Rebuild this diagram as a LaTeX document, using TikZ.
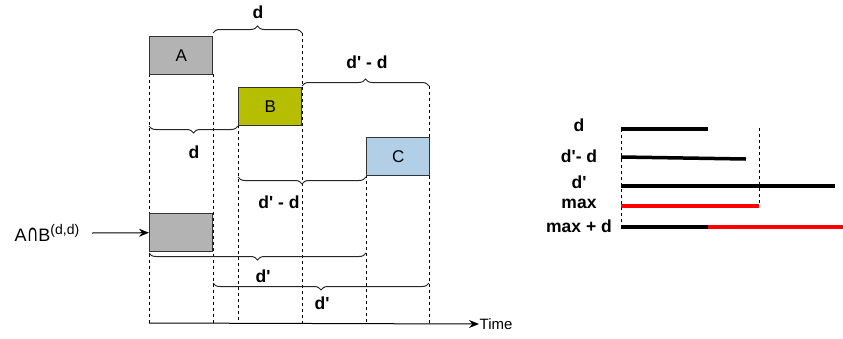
\documentclass[tikz,border=0pt]{standalone}
\usepackage{fontspec}
\setmainfont{Liberation Sans}
\newfontfamily\symfont{DejaVu Sans}
\usepackage{graphicx}
\usepackage{xcolor}
\usepackage{tikz}
\usetikzlibrary{arrows.meta, positioning, decorations.pathreplacing}

\definecolor{boxA}{RGB}{179,179,179}
\definecolor{boxB}{RGB}{181,190,0}
\definecolor{boxC}{RGB}{177,208,232}
\newcommand{\pr}{\textquotesingle}

\begin{document}
\begin{tikzpicture}[x=1pt,y=-1pt]
\tikzset{
  bx/.style={rectangle,draw=black!80,line width=1.4pt,anchor=north west,inner sep=0pt,minimum width=63pt,minimum height=38pt,font=\fontsize{17}{20}\selectfont},
  lb/.style={font=\bfseries\fontsize{17.5}{20}\selectfont},
  br/.style={decorate,decoration={brace,amplitude=7pt},draw=black!85,line width=1pt},
  brm/.style={decorate,decoration={brace,mirror,amplitude=7pt},draw=black!85,line width=1pt},
  dl/.style={dashed,draw=black,line width=0.6pt},
  bar/.style={line width=3.5pt},
  ar/.style={-{Stealth[length=3.5mm,width=2.8mm]},line width=1pt,draw=black}
}
\useasboundingbox (0,0) rectangle (843,338);
% time points
\coordinate (ax) at (149,323);
\coordinate (t3) at (302,33);
\coordinate (t5) at (429,86);
% dashed guides
\draw[dl] (149,74) -- (ax);
\draw[dl] (213,74) -- (213,323);
\draw[dl] (238,125) -- (238,323);
\draw[dl] (t3) -- (t3 |- ax);
\draw[dl] (366,175) -- (366,323);
\draw[dl] (t5) -- (t5 |- ax);
% boxes
\node[bx,fill=boxA] (A) at (149,36) {A};
\node[bx,fill=boxB] (B) at (238,87) {B};
\node[bx,fill=boxC] (C) at (366,137) {C};
\node[bx,fill=boxA] (AB) at (149,213) {};
\node[font=\fontsize{18}{20}\selectfont] (abl) at (47,233) {A\scalebox{1}[1.45]{\symfont\fontsize{16}{18}\selectfont∩}B\raisebox{0.8ex}{\fontsize{14}{16}\selectfont(d,d)}};
\draw[ar] (92,233) -- (AB.west);
% braces
\draw[br] (213,33) -- (t3);
\node[lb] (d1) at (258,12) {d};
\draw[br] (302,86) -- (t5);
\node[lb] (d2) at (367,62) {d\pr{} - d};
\draw[brm] (149,126) -- (238,126);
\node[lb] (d3) at (194,152) {d};
\draw[brm] (238,177) -- (366,177);
\node[lb] (d4) at (279,202) {d\pr{} - d};
\draw[brm] (149,253) -- (366,253);
\node[lb] (d5) at (263,276) {d\pr};
\draw[brm] (213,283) -- (429,283);
\node[lb] (d6) at (322,303) {d\pr};
% time axis
\node[font=\fontsize{15}{17}\selectfont,anchor=west,inner sep=0.5pt] (tm) at (479,324) {Time};
\draw[ar] (ax) -- (tm.west);
% comparison
\node[lb] (r1) at (579,125) {d};
\node[lb] (r2) at (579,156) {d\pr- d};
\node[lb] (r3) at (579,182) {d\pr};
\node[lb] (r4) at (579,204) {max};
\node[lb] (r5) at (579,226) {max + d};
\draw[dl] (621,129) -- (621,227);
\draw[dl] (759,128) -- (759,206);
\draw[bar] (621,129) -- (708,129);
\draw[bar] (621,157) -- (746,159);
\draw[bar] (621,186) -- (835,186);
\draw[bar,red] (621,206) -- (759,206);
\draw[bar] (621,227) -- (708,227);
\draw[bar,red] (708,227) -- (843,227);
\end{tikzpicture}
\end{document}
